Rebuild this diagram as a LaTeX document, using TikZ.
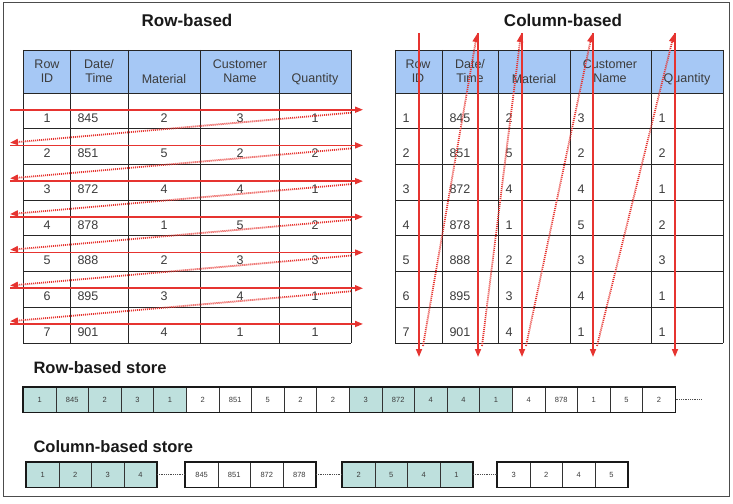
\documentclass[tikz,border=0pt]{standalone}
\usepackage{fontspec}
\setmainfont{Liberation Sans}
\usetikzlibrary{arrows.meta}
\definecolor{headblue}{RGB}{166,200,245}
\definecolor{storeteal}{RGB}{190,224,221}
\definecolor{arrowred}{RGB}{230,52,48}
\definecolor{inkgray}{RGB}{60,60,60}
\tikzset{
  title/.style={font=\fontsize{17}{19}\selectfont\bfseries,text=black!90},
  cell/.style={font=\fontsize{12.5}{14}\selectfont,text=inkgray},
  storecell/.style={draw=black!80,line width=0.6pt,minimum width=32.6pt,minimum height=25pt,
    inner sep=0pt,font=\fontsize{7.5}{8}\selectfont,text=inkgray},
  scan/.style={arrowred,line width=1.6pt,-{Triangle[length=8pt,width=6pt]}},
  jump/.style={arrowred,line width=1.8pt,dash pattern=on 1pt off 1pt,-{Triangle[length=8pt,width=6pt]}},
  tick/.style={black!70,densely dotted,line width=0.8pt}
}
\begin{document}
\begin{tikzpicture}[x=1pt,y=-1pt]
  \useasboundingbox (0,0) rectangle (733,503);
  \draw[black!70,line width=1pt] (3,3) rectangle (729,496);

  % row-based table
  \node[title] (rowtitle) at (187,20) {Row-based};
  \fill[headblue] (23,50) rectangle (351,93);
  \foreach \k in {0,...,7} {
      \draw[black!85,line width=0.8pt] (23,93+35.71*\k) -- (351,93+35.71*\k);
    }
  \draw[black!85,line width=0.8pt] (23,50) -- (351,50);
  \foreach \x in {23,70,128,200,279,351} {
      \draw[black!85,line width=0.8pt] (\x,50) -- (\x,343);
    }
  \node[cell,align=center] (rh1) at (47,71) {Row\\ID};
  \node[cell,align=center] (rh2) at (99,71) {Date/\\Time};
  \node[cell] (rh3) at (164,79) {Material};
  \node[cell,align=center] (rh4) at (240,71) {Customer\\Name};
  \node[cell] (rh5) at (315,79) {Quantity};
  \foreach \id/\dt/\ma/\cu/\qu [count=\k from 0] in
      {1/845/2/3/1,2/851/5/2/2,3/872/4/4/1,4/878/1/5/2,5/888/2/3/3,6/895/3/4/1,7/901/4/1/1} {
      \node[cell] (ra\id) at (47,117.7+35.71*\k) {\id};
      \node[cell,anchor=west] (rb\id) at (74,117.7+35.71*\k) {\dt};
      \node[cell] (rc\id) at (164,117.7+35.71*\k) {\ma};
      \node[cell] (rd\id) at (240,117.7+35.71*\k) {\cu};
      \node[cell] (re\id) at (315,117.7+35.71*\k) {\qu};
    }

  % column-based table
  \node[title] (coltitle) at (563,20) {Column-based};
  \fill[headblue] (395,50) rectangle (723,93);
  \foreach \k in {0,...,7} {
      \draw[black!85,line width=0.8pt] (395,93+35.71*\k) -- (723,93+35.71*\k);
    }
  \draw[black!85,line width=0.8pt] (395,50) -- (723,50);
  \foreach \x in {395,442,498,570,651,723} {
      \draw[black!85,line width=0.8pt] (\x,50) -- (\x,343);
    }
  \node[cell,align=center] (ch1) at (418,71) {Row\\ID};
  \node[cell,align=center] (ch2) at (470,71) {Date/\\Time};
  \node[cell] (ch3) at (534,79) {Material};
  \node[cell,align=center] (ch4) at (610,71) {Customer\\Name};
  \node[cell] (ch5) at (687,79) {Quantity};
  \foreach \id/\dt/\ma/\cu/\qu [count=\k from 0] in
      {1/845/2/3/1,2/851/5/2/2,3/872/4/4/1,4/878/1/5/2,5/888/2/3/3,6/895/3/4/1,7/901/4/1/1} {
      \node[cell,anchor=west] (ca\id) at (399,117.7+35.71*\k) {\id};
      \node[cell,anchor=west] (cb\id) at (446,117.7+35.71*\k) {\dt};
      \node[cell,anchor=west] (cc\id) at (502,117.7+35.71*\k) {\ma};
      \node[cell,anchor=west] (cd\id) at (574,117.7+35.71*\k) {\cu};
      \node[cell,anchor=west] (ce\id) at (655,117.7+35.71*\k) {\qu};
    }

  % row scan arrows
  \foreach \k in {1,...,7} {
      \coordinate (rl\k) at (10,74+35.71*\k);
      \coordinate (rr\k) at (363,74+35.71*\k);
      \coordinate (rj\k) at (351,77+35.71*\k);
      \coordinate (rk\k) at (10,107+35.71*\k);
      \draw[scan] (rl\k) -- (rr\k);
    }
  \foreach \k in {1,...,6} {
      \draw[jump] (rj\k) -- (rk\k);
    }

  % column scan arrows
  \foreach \x [count=\k] in {419,478,522,593,675} {
      \coordinate (ct\k) at (\x,33);
      \coordinate (cbot\k) at (\x,357);
      \coordinate (cj\k) at (\x+4,346);
      \coordinate (ck\k) at (\x-1,34);
      \draw[scan] (ct\k) -- (cbot\k);
    }
  \foreach \k [evaluate=\k as \n using int(\k+1)] in {1,...,4} {
      \draw[jump] (cj\k) -- (ck\n);
    }

  % row-based store
  \node[font=\fontsize{16.5}{18}\selectfont\bfseries,text=black!90,anchor=west] (rowstore) at (30,368) {Row-based store};
  \foreach \v [count=\k from 0] in {1,845,2,3,1,2,851,5,2,2,3,872,4,4,1,4,878,1,5,2} {
      \pgfmathtruncatemacro{\band}{mod(floor(\k/5),2)}
      \ifnum\band=0
        \node[storecell,fill=storeteal,anchor=west] (rs\k) at (23+32.6*\k,399.5) {\v};
      \else
        \node[storecell,fill=white,anchor=west] (rs\k) at (23+32.6*\k,399.5) {\v};
      \fi
    }
  \draw[black!90,line width=1.6pt] (rs0.north west) rectangle (rs19.south east);
  \coordinate (rsend) at (702,399.5);
  \draw[tick] (rs19.east) -- (rsend);

  % column-based store
  \node[font=\fontsize{16.5}{18}\selectfont\bfseries,text=black!90,anchor=west] (colstore) at (30,447) {Column-based store};
  \foreach \g/\gx/\gf/\vals in {1/26/storeteal/{1,2,3,4},2/185/white/{845,851,872,878},3/342/storeteal/{2,5,4,1},4/497/white/{3,2,4,5}} {
      \foreach \v [count=\k from 0] in \vals {
          \node[storecell,fill=\gf,anchor=west] (cs\g\k) at (\gx+32.6*\k,474.5) {\v};
        }
      \draw[black!90,line width=1.6pt] (cs\g0.north west) rectangle (cs\g3.south east);
    }
  \draw[tick] (cs13.east) -- (cs20.west);
  \draw[tick] (cs23.east) -- (cs30.west);
  \draw[tick] (cs33.east) -- (cs40.west);
\end{tikzpicture}
\end{document}
